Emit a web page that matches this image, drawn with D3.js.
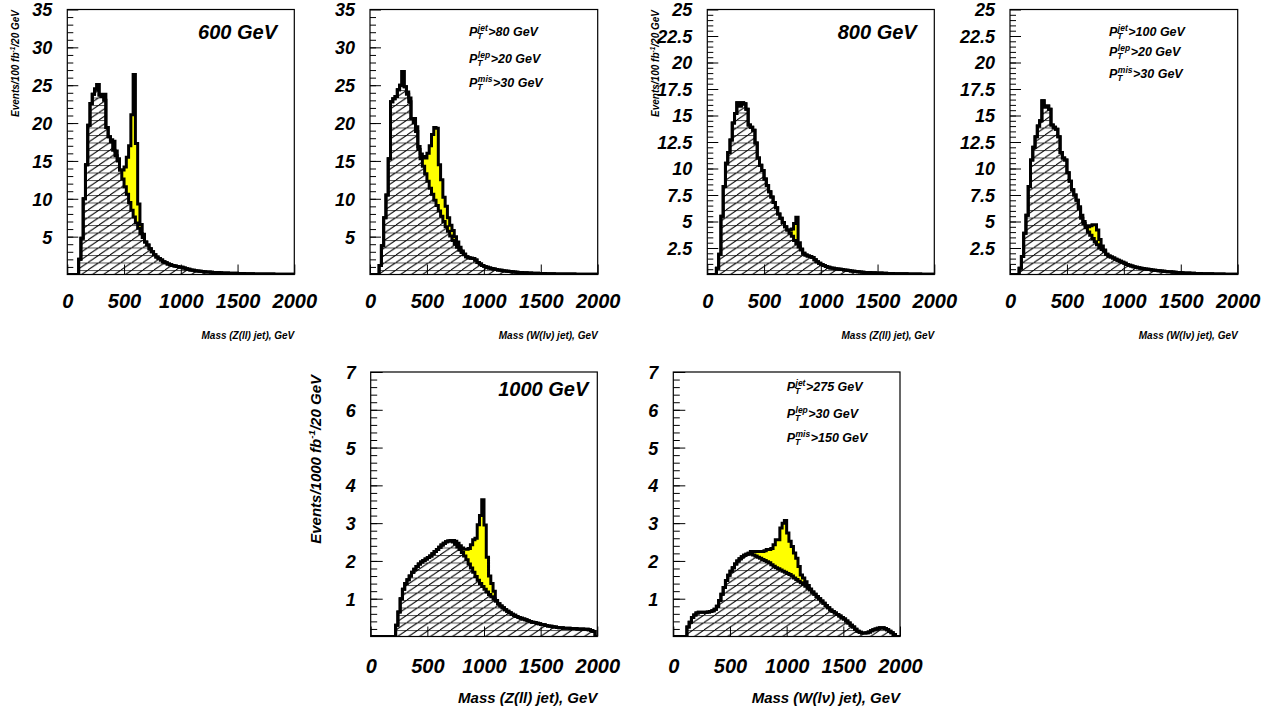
<!DOCTYPE html>
<html><head><meta charset="utf-8">
<script src="https://cdn.jsdelivr.net/npm/d3@7"></script>
<style>
html,body{margin:0;padding:0;background:#fff;}
svg text{font-family:"Liberation Sans",Arial,Helvetica,sans-serif;font-weight:bold;font-style:italic;fill:#000;}
</style></head><body>
<svg id="c" width="1284" height="710"></svg>
<script>
// ---------------- data ----------------
const binWidth = 20;               // GeV
const binLow = d3.range(0, 2000, binWidth);   // 100 mass bins, low edges
const xTickValues = [0, 500, 1000, 1500, 2000];
const yTicksA = [5, 10, 15, 20, 25, 30, 35];
const yTicksB = [2.5, 5, 7.5, 10, 12.5, 15, 17.5, 20, 22.5, 25];
const yTicksC = [1, 2, 3, 4, 5, 6, 7];

// background (hatched) histograms, Events per 20 GeV bin
const bkgZ600 = [0,0,0,0,0, 2.0,4.8,10.0,14.5,19.7, 22.6,23.8,24.5,25.1,23.7, 23.5,23.0,19.4,18.2,17.5,
  16.4,15.7,15.0,13.8,12.6, 11.6,10.6,9.5,8.5,7.6, 6.8,6.1,5.4,4.9,4.3, 3.9,3.4,3.0,2.6,2.3,
  2.1,1.9,1.7,1.55,1.4, 1.3,1.2,1.12,1.05,1.0, 0.95,0.85,0.75,0.68,0.6, 0.55,0.5,0.47,0.44,0.4,
  0.37,0.34,0.32,0.3,0.28, 0.26,0.25,0.23,0.21,0.2, 0.19,0.18,0.17,0.16,0.15, 0.14,0.13,0.12,0.11,0.1,
  0.1,0.09,0.08,0.08,0.07, 0.07,0.06,0.06,0.05,0.05, 0.05,0.04,0.04,0.04,0.03, 0.03,0.03,0.02,0.02,0.02];
const bkgW600 = [0,0,0,0,1.2, 3.8,7.5,10.5,15.3,22.8, 23.2,23.5,24.4,25.0,26.8, 24.8,23.8,22.8,20.6,20.0,
  18.9,16.5,15.3,14.3,13.3, 12.3,11.4,10.6,9.8,9.1, 8.4,7.7,7.0,6.3,5.7, 5.1,4.5,4.0,3.6,3.2,
  2.9,2.6,2.35,2.2,2.15, 2.1,1.9,1.6,1.4,1.2, 1.05,0.95,0.85,0.78,0.72, 0.66,0.6,0.55,0.5,0.46,
  0.42,0.39,0.36,0.33,0.3, 0.28,0.26,0.24,0.22,0.2, 0.19,0.18,0.16,0.15,0.14, 0.13,0.12,0.11,0.1,0.1,
  0.09,0.08,0.08,0.07,0.07, 0.06,0.06,0.05,0.05,0.05, 0.04,0.04,0.04,0.03,0.03, 0.03,0.03,0.02,0.02,0.02];
const bkgZ800 = [0,0,0,0,0.6, 1.9,5.5,8.3,10.5,11.5, 12.7,14.3,15.2,16.2,15.9, 16.2,16.1,15.6,14.1,13.9,
  13.6,12.4,11.0,10.3,9.8, 9.0,8.4,7.8,7.3,6.8, 6.3,5.7,5.3,4.9,4.5, 4.2,3.9,3.6,3.2,2.9,
  2.6,2.3,2.0,1.85,1.75, 1.7,1.6,1.4,1.2,1.05, 0.95,0.85,0.75,0.68,0.62, 0.58,0.55,0.52,0.5,0.46,
  0.43,0.4,0.37,0.34,0.31, 0.28,0.26,0.24,0.22,0.2, 0.19,0.18,0.17,0.16,0.15, 0.14,0.13,0.12,0.11,0.1,
  0.09,0.09,0.08,0.08,0.07, 0.07,0.06,0.06,0.05,0.05, 0.05,0.04,0.04,0.04,0.03, 0.03,0.03,0.02,0.02,0.02];
const bkgW800 = [0,0,0,0,0.6, 1.7,3.9,5.6,8.3,10.8, 12.0,13.0,14.0,14.5,16.4, 15.8,15.9,15.6,14.1,13.9,
  13.7,13.0,11.5,11.0,10.8, 9.6,8.8,8.0,7.5,7.0, 6.2,5.3,4.8,4.4,4.0, 3.7,3.4,3.1,2.8,2.5,
  2.35,2.2,1.9,1.75,1.65, 1.55,1.45,1.35,1.25,1.15, 1.05,0.95,0.87,0.8,0.74, 0.68,0.64,0.6,0.56,0.52,
  0.49,0.46,0.43,0.4,0.38, 0.36,0.34,0.31,0.29,0.27, 0.25,0.23,0.21,0.2,0.18, 0.17,0.15,0.14,0.13,0.12,
  0.11,0.1,0.09,0.09,0.08, 0.07,0.07,0.06,0.06,0.05, 0.05,0.04,0.04,0.04,0.03, 0.03,0.03,0.02,0.02,0.02];
const bkgZ1000 = [0,0,0,0,0, 0,0,0,0,0, 0,0.3,0.65,1.0,1.25, 1.4,1.5,1.6,1.7,1.78,
  1.85,1.92,1.97,2.01,2.05, 2.09,2.13,2.19,2.25,2.3, 2.36,2.42,2.47,2.51,2.53, 2.53,2.5,2.44,2.37,2.3,
  2.22,2.13,2.03,1.92,1.81, 1.7,1.59,1.49,1.4,1.32, 1.25,1.18,1.11,1.05,0.99, 0.93,0.87,0.81,0.76,0.71,
  0.67,0.63,0.59,0.56,0.53, 0.5,0.48,0.46,0.44,0.42, 0.4,0.38,0.37,0.35,0.34, 0.32,0.31,0.29,0.28,0.27,
  0.26,0.25,0.24,0.23,0.23, 0.22,0.22,0.22,0.21,0.21, 0.21,0.2,0.2,0.2,0.19, 0.19,0.18,0.16,0.13,0];
const bkgW1000 = [0,0,0,0,0, 0,0.25,0.38,0.5,0.57, 0.62,0.64,0.64,0.64,0.64, 0.65,0.66,0.68,0.72,0.8,
  0.95,1.12,1.3,1.48,1.62, 1.73,1.82,1.92,2.0,2.06, 2.11,2.15,2.18,2.2,2.19, 2.16,2.13,2.1,2.07,2.04,
  2.01,1.98,1.95,1.9,1.86, 1.82,1.79,1.76,1.73,1.7, 1.67,1.64,1.6,1.55,1.51, 1.46,1.42,1.38,1.33,1.28,
  1.23,1.18,1.12,1.06,1.0, 0.94,0.88,0.82,0.76,0.7, 0.66,0.62,0.58,0.54,0.5, 0.46,0.41,0.36,0.3,0.25,
  0.19,0.14,0.11,0.09,0.09, 0.1,0.12,0.15,0.18,0.2, 0.22,0.23,0.23,0.21,0.18, 0.14,0.1,0.05,0,0];

// signal excess over background (yellow), [bin low edge GeV, events]
const sigZ600 = [[300,0.3],[320,0.8],[380,0.3],[400,1.2],[420,0.6],[440,0.3],[480,1.2],[500,2.6],[520,4.9],
  [540,7.5],[560,12.6],[580,18.8],[600,10.5],[620,3.2],[640,1.2],[660,0.4]];
const sigW600 = [[320,0.3],[340,0.5],[380,0.6],[400,0.6],[420,0.4],[440,0.6],[460,1.3],[480,2.1],[500,3.7],
  [520,5.6],[540,7.9],[560,9.6],[580,10.2],[600,6.1],[620,4.8],[640,3.2],[660,2.7],[680,1.8],[700,1.4],
  [720,1.3],[740,1.0],[760,0.7],[780,0.4],[800,0.2],[820,0.1]];
const sigZ800 = [[720,0.3],[740,0.7],[760,1.6],[780,2.5],[800,0.4],[820,0.1]];
const sigW800 = [[600,0.2],[620,0.3],[640,0.2],[660,0.2],[680,0.5],[700,0.9],[720,1.3],[740,1.6],[760,1.4],
  [780,0.8],[800,0.35],[820,0.1]];
const sigZ1000 = [[700,0.01],[720,0.04],[740,0.08],[760,0.1],[780,0.1],[800,0.12],[820,0.18],[840,0.28],
  [860,0.41],[880,0.62],[900,0.86],[920,1.01],[940,1.47],[960,1.8],[980,2.3],[1000,1.7],[1020,0.92],
  [1040,0.49],[1060,0.35],[1080,0.21],[1100,0.02]];
const sigW1000 = [[680,0.06],[700,0.09],[720,0.12],[740,0.15],[760,0.18],[780,0.21],[800,0.26],[820,0.32],
  [840,0.35],[860,0.43],[880,0.57],[900,0.74],[920,0.77],[940,1.11],[960,1.27],[980,1.37],[1000,1.07],
  [1020,0.88],[1040,0.78],[1060,0.66],[1080,0.56],[1100,0.39],[1120,0.21],[1140,0.17],[1160,0.12],
  [1180,0.07],[1200,0.03]];

// texts
const xTitleZ = "Mass (Z(ll) jet), GeV";
const xTitleW = "Mass (W(l\u03BD) jet), GeV";
const cuts600 = [["jet", ">80 GeV"], ["lep", ">20 GeV"], ["mis", ">30 GeV"]];
const cuts800 = [["jet", ">100 GeV"], ["lep", ">20 GeV"], ["mis", ">30 GeV"]];
const cuts1000 = [["jet", ">275 GeV"], ["lep", ">30 GeV"], ["mis", ">150 GeV"]];

// ---------------- layout ----------------
const rows = {
  top:    {yT: 9.5, yB: 274.5, labPad: 19.6, titleSize: 10, titleBase: 338.5, yTitleSize: 10, yTitleDx: 48.7, yTitleTop: 10, lumi: "100", maj: 11, min: 6},
  bottom: {yT: 372, yB: 636.5, labPad: 22.6, titleSize: 15, titleBase: 703, yTitleSize: 15, yTitleDx: 49.3, yTitleTop: 375, lumi: "1000", maj: 12, min: 6.5}
};
const panels = [
  {row: "top", x0: 67.3, x1: 294.3, ymax: 35, yTicks: yTicksA, minor: 1, bkg: bkgZ600, sig: sigZ600, xTitle: xTitleZ, yTitle: true, label: "600 GeV", labelDx: 17.3, labelBase: 39.3},
  {row: "top", x0: 370, x1: 597.7, ymax: 35, yTicks: yTicksA, minor: 1, bkg: bkgW600, sig: sigW600, xTitle: xTitleW, cuts: cuts600, cutDx: 99, cutBase: [36, 62.7, 87.3]},
  {row: "top", x0: 707.3, x1: 934.3, ymax: 25, yTicks: yTicksB, minor: 0.5, bkg: bkgZ800, sig: sigZ800, xTitle: xTitleZ, yTitle: true, label: "800 GeV", labelDx: 17.6, labelBase: 39.3},
  {row: "top", x0: 1010, x1: 1237.7, ymax: 25, yTicks: yTicksB, minor: 0.5, bkg: bkgW800, sig: sigW800, xTitle: xTitleW, cuts: cuts800, cutDx: 99, cutBase: [36, 56, 78.3]},
  {row: "bottom", x0: 370.7, x1: 597.3, ymax: 7, yTicks: yTicksC, minor: 0.2, bkg: bkgZ1000, sig: sigZ1000, xTitle: xTitleZ, yTitle: true, label: "1000 GeV", labelDx: 9, labelBase: 395.7},
  {row: "bottom", x0: 673.3, x1: 900, ymax: 7, yTicks: yTicksC, minor: 0.2, bkg: bkgW1000, sig: sigW1000, xTitle: xTitleW, cuts: cuts1000, cutDx: 113.4, cutBase: [391, 417.7, 442.3]}
];

const svg = d3.select("#c");
const defs = svg.append("defs");
const pat = defs.append("pattern").attr("id", "hatch").attr("patternUnits", "userSpaceOnUse")
  .attr("width", 11).attr("height", 7.5);
pat.append("line").attr("x1", 0).attr("y1", 0.5).attr("x2", 11).attr("y2", 0.5)
  .attr("stroke", "#555").attr("stroke-width", 1);
[[0, 7.5, 11, 0], [-11, 7.5, 0, 0], [11, 7.5, 22, 0]].forEach(c =>
  pat.append("line").attr("x1", c[0]).attr("y1", c[1]).attr("x2", c[2]).attr("y2", c[3])
    .attr("stroke", "#000").attr("stroke-width", 1));

panels.forEach((p, k) => {
  const r = rows[p.row];
  const x = d3.scaleLinear().domain([0, 2000]).range([p.x0, p.x1]);
  const y = d3.scaleLinear().domain([0, p.ymax]).range([r.yB, r.yT]);
  const g = svg.append("g");

  defs.append("clipPath").attr("id", "clip" + k).append("rect")
    .attr("x", p.x0).attr("y", r.yT).attr("width", p.x1 - p.x0).attr("height", r.yB - r.yT);

  const sigMap = new Map(p.sig);
  const bk = binLow.map((m, i) => [m, p.bkg[i]]);
  const tot = binLow.map((m, i) => [m, p.bkg[i] + (sigMap.get(m) || 0)]);
  bk.push([2000, p.bkg[p.bkg.length - 1]]);
  tot.push([2000, tot[tot.length - 1][1]]);

  const area = d3.area().x(d => x(d[0])).y0(y(0)).y1(d => y(d[1])).curve(d3.curveStepAfter);
  const line = d3.line().x(d => x(d[0])).y(d => y(d[1])).curve(d3.curveStepAfter);

  const hg = g.append("g").attr("clip-path", `url(#clip${k})`);
  hg.append("path").attr("d", area(tot)).attr("fill", "#ffff00");
  hg.append("path").attr("d", area(bk)).attr("fill", "#fff");
  hg.append("path").attr("d", area(bk)).attr("fill", "url(#hatch)");
  hg.append("path").attr("d", line(tot)).attr("fill", "none").attr("stroke", "#000")
    .attr("stroke-width", 3).attr("stroke-linejoin", "miter");
  hg.append("path").attr("d", line(bk)).attr("fill", "none").attr("stroke", "#000")
    .attr("stroke-width", 3).attr("stroke-linejoin", "miter");

  // minor y ticks
  const minorVals = d3.range(0, p.ymax + 1e-9, p.minor).filter(v => v > 0 && v < p.ymax - 1e-9);
  const ymin = g.append("g").attr("transform", `translate(${p.x0},0)`)
    .call(d3.axisLeft(y).tickValues(minorVals).tickSizeInner(-r.min).tickSizeOuter(0).tickFormat(""));
  ymin.select(".domain").remove();
  // major y ticks + labels
  const yax = g.append("g").attr("transform", `translate(${p.x0},0)`)
    .call(d3.axisLeft(y).tickValues(p.yTicks).tickSizeInner(-r.maj).tickSizeOuter(0).tickPadding(15)
      .tickFormat(d => String(d)));
  yax.select(".domain").remove();
  yax.attr("font-family", null).attr("font-size", null);
  yax.selectAll("text").style("font-size", "18px").attr("dy", "0.36em");
  g.selectAll(".tick line").attr("stroke", "#000").attr("stroke-width", 1);

  // x axis
  const xax = g.append("g").attr("transform", `translate(0,${r.yB})`)
    .call(d3.axisBottom(x).tickValues(xTickValues).tickSizeInner(-10).tickSizeOuter(0).tickPadding(r.labPad)
      .tickFormat(d => String(d)));
  xax.select(".domain").remove();
  xax.attr("font-family", null).attr("font-size", null);
  xax.selectAll("text").style("font-size", "20px");
  xax.selectAll(".tick line").attr("stroke", "#000").attr("stroke-width", 1);

  // frame
  g.append("rect").attr("x", p.x0).attr("y", r.yT).attr("width", p.x1 - p.x0).attr("height", r.yB - r.yT)
    .attr("fill", "none").attr("stroke", "#000").attr("stroke-width", 1.2);

  // x title
  g.append("text").attr("x", p.x1).attr("y", r.titleBase).attr("text-anchor", "end")
    .style("font-size", r.titleSize + "px").text(p.xTitle);

  // y title
  if (p.yTitle) {
    const t = g.append("text").attr("transform", `translate(${p.x0 - r.yTitleDx},${r.yTitleTop}) rotate(-90)`)
      .attr("text-anchor", "end").style("font-size", r.yTitleSize + "px");
    t.append("tspan").text(`Events/${r.lumi} fb`);
    t.append("tspan").attr("dy", -r.yTitleSize * 0.4).style("font-size", (r.yTitleSize * 0.65) + "px").text("-1");
    t.append("tspan").attr("dy", r.yTitleSize * 0.4).text("/20 GeV");
  }

  // mass label
  if (p.label) {
    g.append("text").attr("x", p.x1 - p.labelDx).attr("y", p.labelBase).attr("text-anchor", "end")
      .style("font-size", "20px").text(p.label);
  }

  // cuts
  if (p.cuts) {
    p.cuts.forEach((c, i) => {
      const bx = p.x0 + p.cutDx, by = p.cutBase[i];
      const t1 = g.append("text").attr("x", bx).attr("y", by).style("font-size", "12.5px").text("P");
      const w1 = t1.node().getComputedTextLength();
      const sub = g.append("text").attr("x", bx + w1).attr("y", by + 3).style("font-size", "8.5px").text("T");
      const sup = g.append("text").attr("x", bx + w1 + 0.5).attr("y", by - 5).style("font-size", "8.5px").text(c[0]);
      const w2 = Math.max(sub.node().getComputedTextLength(), sup.node().getComputedTextLength() + 0.5);
      g.append("text").attr("x", bx + w1 + w2 + 0.5).attr("y", by).style("font-size", "12.5px").text(c[1]);
    });
  }
});
</script>
</body></html>
